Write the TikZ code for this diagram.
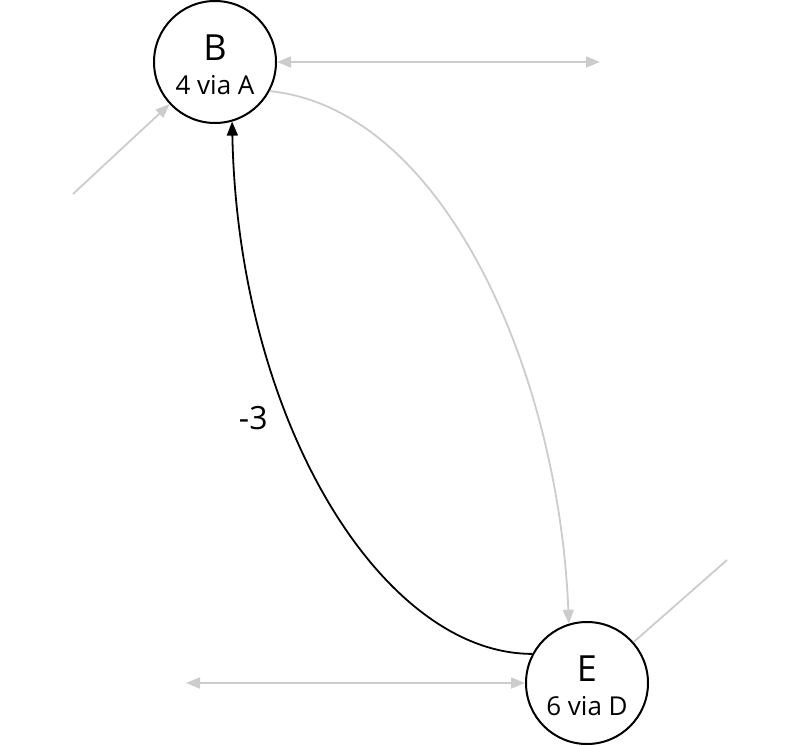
\documentclass[tikz,border=0pt]{standalone}
\usepackage{fontspec}
\setmainfont{Open Sans}
\usetikzlibrary{arrows.meta,positioning}

\begin{document}
\begin{tikzpicture}[x=1pt, y=-1pt, >={Triangle[length=14pt,width=11pt]},
  vertex/.style={draw, circle, line width=2pt, minimum size=122pt, inner sep=0pt, align=center, text height=66pt, font=\fontsize{26}{34}\selectfont},
  faded/.style={draw=black!20, line width=1.8pt},
  active/.style={draw=black, line width=1.8pt}]
\useasboundingbox (0,0) rectangle (800,746);

\node[vertex] (B) at (215,62) {{\fontsize{36}{36}\selectfont B}\\4 via A};
\node[vertex] (E) at (587,683) {{\fontsize{36}{36}\selectfont E}\\6 via D};

% loose ends of edges to nodes not shown
\coordinate (bl) at (73,194);
\coordinate (br) at (600,62);
\coordinate (el) at (186,683);
\coordinate (er) at (727,560);

\draw[faded, ->, fill=black!20] (bl) -- (B);
\draw[faded, <->, fill=black!20] (B) -- (br);
\draw[faded, <->, fill=black!20] (el) -- (E);
\draw[faded] (E) -- (er);

\draw[faded, ->] (B.-28) .. controls +(175,18) and +(-10,-250) .. (E.107);
\draw[active, ->] (E.152) .. controls +(-150,0) and +(6,300) .. node[pos=0.63, left=17pt, font=\fontsize{32}{32}\selectfont] {-3} (B.-74);
\end{tikzpicture}
\end{document}
